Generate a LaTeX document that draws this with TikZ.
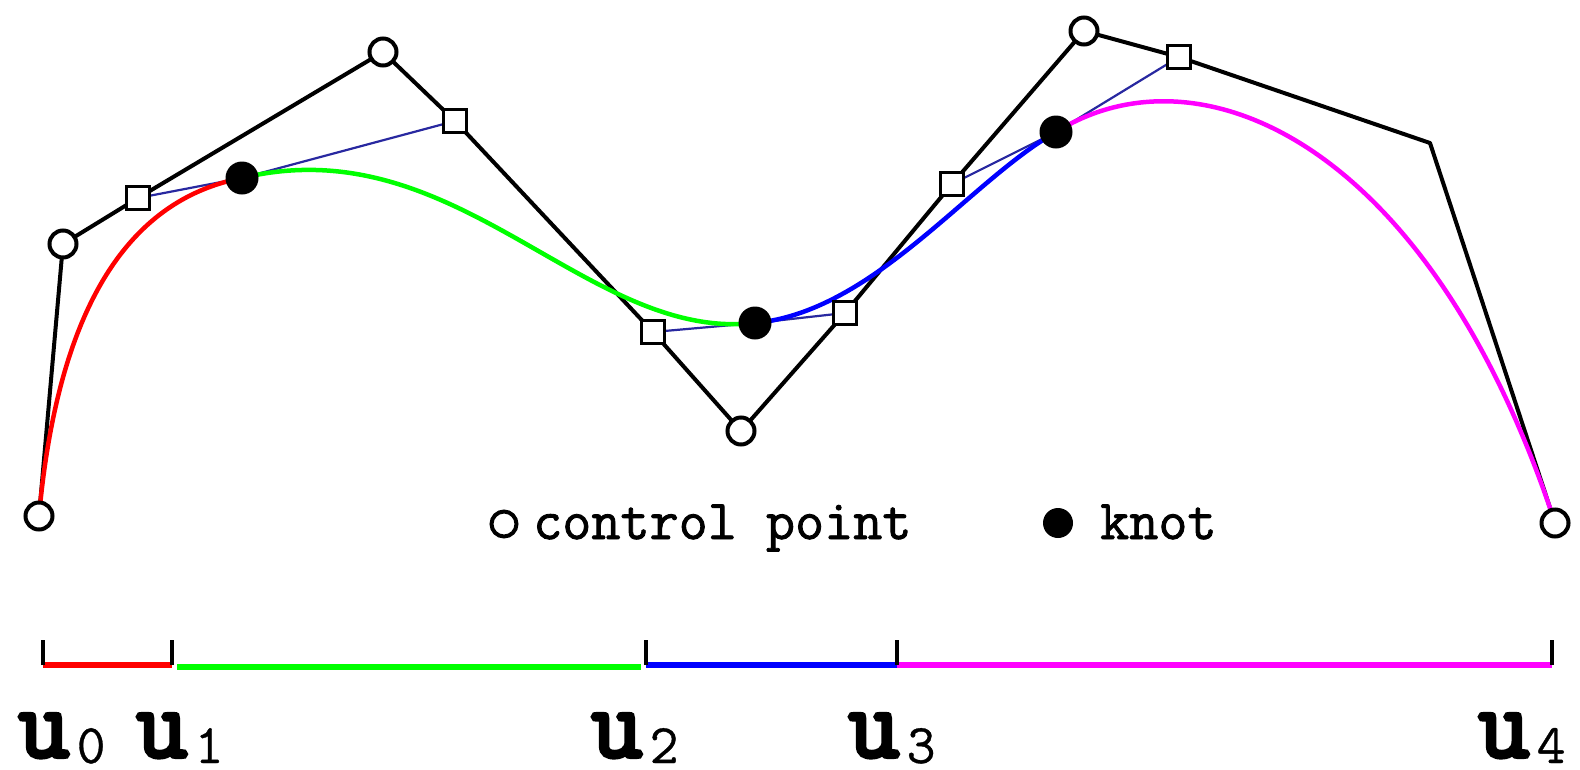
\documentclass[tikz,border=0pt]{standalone}
\usepackage{fontspec}
\newfontfamily\ttbold[FakeBold=4]{Latin Modern Mono}
\newfontfamily\ttmed[FakeBold=1.5]{Latin Modern Mono}
\newfontfamily\ttreg[FakeBold=0.6]{Latin Modern Mono}
\definecolor{navy}{RGB}{40,40,160}
\definecolor{cgreen}{RGB}{0,255,0}
\definecolor{cblue}{RGB}{0,0,255}
\definecolor{cmag}{RGB}{255,0,255}
\definecolor{cred}{RGB}{255,0,0}
\tikzset{
  ctrlpt/.style={circle,draw=black,fill=white,line width=4pt,minimum size=27pt,inner sep=0pt},
  bezpt/.style={rectangle,draw=black,fill=white,line width=3.5pt,minimum size=23pt,inner sep=0pt},
  knotpt/.style={circle,fill=black,minimum size=33pt,inner sep=0pt},
  polyline/.style={line width=4pt,black,line join=round,line cap=round},
  tanline/.style={line width=2.2pt,navy},
  curve/.style={line width=4.5pt},
  bar/.style={line width=6pt},
  tick/.style={line width=3.5pt,black},
  ulab/.style={anchor=base west,inner sep=0pt,font=\ttbold\fontsize{100}{100}\selectfont},
  legtext/.style={anchor=base west,inner sep=0pt,font=\ttmed\fontsize{56.5}{56.5}\selectfont}
}
\newcommand{\usub}[1]{\hspace{7pt}\raisebox{-6pt}{\ttreg\fontsize{56}{56}\selectfont #1}}
\begin{document}
\begin{tikzpicture}[x=1pt,y=-1pt]
\useasboundingbox (0,0) rectangle (1580,769);
% control points
\coordinate (p0) at (39,516);
\coordinate (p1) at (63,244);
\coordinate (p2) at (383,52);
\coordinate (p3) at (741,431);
\coordinate (p4) at (1084,31);
\coordinate (c5) at (1430,143);
\coordinate (p6) at (1555,523);
% bezier points
\coordinate (s1) at (138,198);
\coordinate (s2) at (455,121);
\coordinate (s3) at (653,332);
\coordinate (s4) at (845,313);
\coordinate (s5) at (952,184);
\coordinate (s6) at (1179,57);
% knots
\coordinate (k1) at (242,178);
\coordinate (k2) at (755,323);
\coordinate (k3) at (1056,132);
% control polygon
\draw[polyline] (p0) -- (p1) -- (s1) -- (p2) -- (s2) -- (s3) -- (p3) -- (s4) -- (s5) -- (p4) -- (s6) -- (c5) -- (p6);
% tangent lines
\draw[tanline] (s1) -- (k1) -- (s2);
\draw[tanline] (s3) -- (k2) -- (s4);
\draw[tanline] (s5) -- (k3) -- (s6);
% curve segments
\draw[curve,cred] (p0) .. controls (61,275) and (149,196) .. (k1);
\draw[curve,cgreen] (k1) .. controls (457,126) and (586,342) .. (k2);
\draw[curve,cblue] (k2) .. controls (874,311.5) and (969,181.3) .. (k3);
\draw[curve,cmag] (k3) .. controls (1200,42) and (c5) .. (p6);
% markers
\foreach \p in {p0,p1,p2,p3,p4,p6} \node[ctrlpt] (m\p) at (\p) {};
\foreach \s in {s1,s2,s3,s4,s5,s6} \node[bezpt] (m\s) at (\s) {};
\foreach \k in {k1,k2,k3} \node[knotpt] (m\k) at (\k) {};
% legend
\node[ctrlpt,minimum size=25pt] (legc) at (504,524) {};
\node[legtext] (legct) at (533,539) {control point};
\node[knotpt,minimum size=30pt] (legk) at (1058,523) {};
\node[legtext] (legkt) at (1100,539) {knot};
% parameter bar
\coordinate (t0) at (43,665);
\coordinate (t1) at (172,665);
\coordinate (g1) at (177,667);
\coordinate (g2) at (641,667);
\coordinate (t2) at (646,665);
\coordinate (t3) at (897,665);
\coordinate (t4) at (1552,665);
\draw[bar,cred] (t0) -- (t1);
\draw[bar,cgreen] (g1) -- (g2);
\draw[bar,cblue] (t2) -- (t3);
\draw[bar,cmag] (t3) -- (t4);
\foreach \t in {t0,t1,t2,t3,t4} \draw[tick] (\t) -- ++(0,-25);
% labels
\node[ulab] (u0) at (18,757) {u\usub{0}};
\node[ulab] (u1) at (136,757) {u\usub{1}};
\node[ulab] (u2) at (591,757) {u\usub{2}};
\node[ulab] (u3) at (848,757) {u\usub{3}};
\node[ulab] (u4) at (1478,757) {u\usub{4}};
\end{tikzpicture}
\end{document}
